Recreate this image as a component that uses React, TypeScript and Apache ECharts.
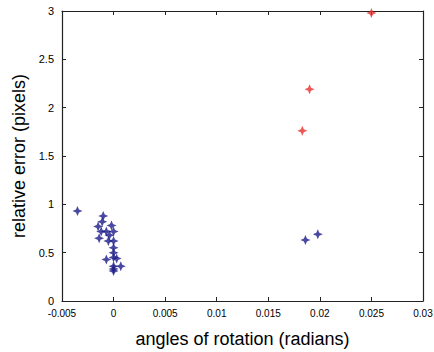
import React, { useEffect, useRef } from "react";
import * as echarts from "echarts";

const blueClusterPoints: [number, number][] = [
  [-0.0035, 0.93], [-0.001, 0.88], [-0.0011, 0.82], [-0.0015, 0.77], [-0.0012, 0.72],
  [-0.0014, 0.65], [-0.0002, 0.78], [-0.0007, 0.72], [0, 0.72], [-0.0004, 0.68],
  [-0.0005, 0.62], [0, 0.62], [0, 0.55], [0, 0.5], [-0.0007, 0.43], [0, 0.45],
  [0.0003, 0.44], [0.0007, 0.36], [0, 0.36], [0, 0.31], [0, 0.33],
  [0.0186, 0.63], [0.0198, 0.69],
];
const redPoints: [number, number][] = [
  [0.025, 2.98], [0.019, 2.19], [0.0183, 1.76],
];

const xMin = -0.005, xMax = 0.03, xInterval = 0.005;
const yMin = 0, yMax = 3, yInterval = 0.5;

const starPath = "path://M0,-10 L3,-3 L10,0 L3,3 L0,10 L-3,3 L-10,0 L-3,-3 Z";

export default function App() {
  const ref = useRef<HTMLDivElement>(null);
  useEffect(() => {
    const chart = echarts.init(ref.current!, null, { renderer: "svg" });
    const font = "'Liberation Sans', Arial, sans-serif";
    const axisCommon = {
      axisLine: { show: true, onZero: false, lineStyle: { color: "#222", width: 1.2 } },
      axisTick: { show: true, inside: true, length: 4, lineStyle: { color: "#222" } },
      splitLine: { show: false },
    };
    chart.setOption({
      animation: false,
      backgroundColor: "#fff",
      grid: { left: 62, right: 11, top: 11, bottom: 51, containLabel: false, outerBoundsMode: "none" },
      xAxis: [
        {
          type: "value", min: xMin, max: xMax, interval: xInterval, position: "bottom",
          ...axisCommon,
          axisLabel: { fontSize: 10, color: "#000", fontFamily: font, margin: 7 },
          name: "angles of rotation (radians)", nameLocation: "middle", nameGap: 29,
          nameTextStyle: { fontSize: 18, color: "#000", fontFamily: font },
        },
        {
          type: "value", min: xMin, max: xMax, interval: xInterval, position: "top",
          ...axisCommon, axisLabel: { show: false },
        },
      ],
      yAxis: [
        {
          type: "value", min: yMin, max: yMax, interval: yInterval, position: "left",
          ...axisCommon,
          axisLabel: { fontSize: 11, color: "#000", fontFamily: font, margin: 8 },
          name: "relative error (pixels)", nameLocation: "middle", nameGap: 21,
          nameTextStyle: { fontSize: 18, color: "#000", fontFamily: font },
        },
        {
          type: "value", min: yMin, max: yMax, interval: yInterval, position: "right",
          ...axisCommon, axisLabel: { show: false },
        },
      ],
      series: [
        {
          type: "scatter", data: blueClusterPoints, symbol: starPath, symbolSize: 10,
          itemStyle: { color: "#1c1c8a" }, xAxisIndex: 0, yAxisIndex: 0,
        },
        {
          type: "scatter", data: redPoints, symbol: starPath, symbolSize: 10,
          itemStyle: { color: "#e8302c" }, xAxisIndex: 0, yAxisIndex: 0,
        },
      ],
    });
    return () => chart.dispose();
  }, []);
  return <div ref={ref} style={{ width: 434, height: 352, position: "absolute", left: 0, top: 0 }} />;
}
